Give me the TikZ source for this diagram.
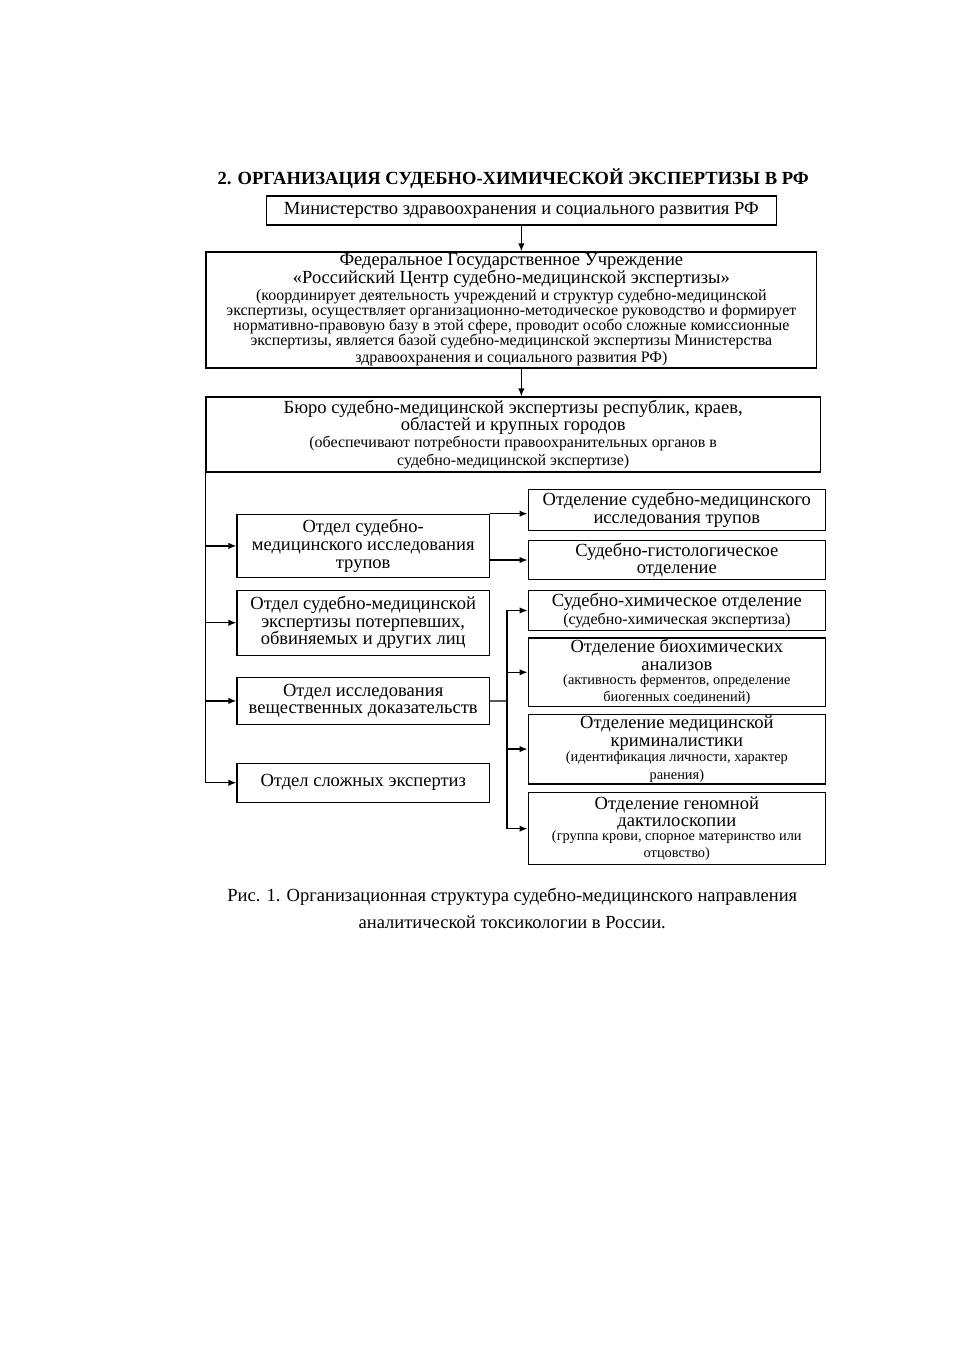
\documentclass[tikz,border=0pt]{standalone}
\usepackage{fontspec}
\setmainfont{Liberation Serif}
\usetikzlibrary{arrows.meta,positioning,calc}
\newcommand{\sm}{\fontsize{10}{9.4}\selectfont}
\newcommand{\smr}{\fontsize{9}{8.6}\selectfont}
\lineskiplimit=-4pt

\begin{document}
\begin{tikzpicture}[
  hbox/.style={draw,line width=0.8pt,align=flush center,inner sep=1pt,
               font=\fontsize{11.6}{11}\selectfont},
  wbox/.style={hbox,text width=13.2cm},
  lbox/.style={hbox,minimum width=5.55cm,text width=5.4cm},
  rbox/.style={hbox,minimum width=6.54cm,text width=6.4cm},
  arr/.style={-{Latex[length=5pt,width=4pt]},line width=0.8pt},
  ln/.style={line width=0.8pt},
]
\useasboundingbox (0,0) rectangle (21,-29.7);
% header
\node[font=\bfseries\fontsize{11.6}{13}\selectfont] (title) at (11.29,-3.92)
  {2. ОРГАНИЗАЦИЯ СУДЕБНО-ХИМИЧЕСКОЙ ЭКСПЕРТИЗЫ В РФ};
\node[hbox,minimum width=11.23cm,minimum height=0.64cm] (minzdrav) at (11.47,-4.63)
  {Министерство здравоохранения и социального развития РФ};
\node[wbox,minimum width=13.43cm,minimum height=2.55cm] (rcsme) at (11.25,-6.82)
  {Федеральное Государственное Учреждение\\
   «Российский Центр судебно-медицинской экспертизы»\par
   \sm (координирует деятельность учреждений и структур судебно-медицинской\\
   экспертизы, осуществляет организационно-методическое руководство и формирует\\
   нормативно-правовую базу в этой сфере, проводит особо сложные комиссионные\\
   экспертизы, является базой судебно-медицинской экспертизы Министерства\\
   здравоохранения и социального развития РФ)};
\node[wbox,minimum width=13.52cm,minimum height=1.65cm] (bureau) at (11.29,-9.56)
  {Бюро судебно-медицинской экспертизы республик, краев,\\
   областей и крупных городов\par
   \sm (обеспечивают потребности правоохранительных органов в\\
   судебно-медицинской экспертизе)};
% left column
\node[lbox,minimum height=1.39cm] (otdtrup) at (7.99,-12.01)
  {Отдел судебно-\\медицинского исследования\\трупов};
\node[lbox,minimum height=1.43cm] (otdlic) at (7.99,-13.70)
  {Отдел судебно-медицинской\\экспертизы потерпевших,\\обвиняемых и других лиц};
\node[lbox,minimum height=1.04cm] (otdvesh) at (7.99,-15.42)
  {Отдел исследования\\вещественных доказательств};
\node[lbox,minimum height=0.86cm] (otdslozh) at (7.99,-17.22)
  {Отдел сложных экспертиз};
% right column
\node[rbox,minimum height=0.90cm] (trup) at (14.89,-11.22)
  {Отделение судебно-медицинского\\исследования трупов};
\node[rbox,minimum height=0.86cm] (gisto) at (14.89,-12.32)
  {Судебно-гистологическое\\отделение};
\node[rbox,minimum height=0.88cm] (himia) at (14.89,-13.43)
  {Судебно-химическое отделение\par\sm (судебно-химическая экспертиза)};
\node[rbox,minimum height=1.50cm] (biohim) at (14.89,-14.79)
  {Отделение биохимических\\анализов\par
   \smr (активность ферментов, определение\\биогенных соединений)};
\node[rbox,minimum height=1.48cm] (krimin) at (14.89,-16.48)
  {Отделение медицинской\\криминалистики\par
   \smr (идентификация личности, характер\\ранения)};
\node[rbox,minimum height=1.59cm] (genom) at (14.89,-18.23)
  {Отделение геномной\\дактилоскопии\par
   \smr (группа крови, спорное материнство или\\отцовство)};
% caption
\node[font=\fontsize{11.6}{13}\selectfont] (cap1) at (11.27,-19.74)
  {Рис. 1. Организационная структура судебно-медицинского направления};
\node[font=\fontsize{11.6}{13}\selectfont] (cap2) at (11.27,-20.29)
  {аналитической токсикологии в России.};
% connectors
\draw[arr] (minzdrav.south) -- (minzdrav.south |- rcsme.north);
\draw[arr] (minzdrav.south |- rcsme.south) -- (minzdrav.south |- bureau.north);
\draw[ln] (bureau.south west) -- (bureau.south west |- otdslozh.west);
\foreach \n in {otdtrup,otdlic,otdvesh,otdslozh}
  \draw[arr] (bureau.south west |- \n.west) -- (\n.west);
\draw[arr] (otdtrup.north east) -- (otdtrup.north east -| trup.west);
\draw[arr] (gisto.west -| otdtrup.east) -- (gisto.west);
\coordinate (bus) at ($(otdvesh.east)!0.45!(otdvesh.east -| himia.west)$);
\draw[ln] (otdvesh.east) -- (bus);
\draw[ln] (bus |- himia.west) -- (bus |- genom.west);
\foreach \n in {himia,biohim,krimin,genom}
  \draw[arr] (bus |- \n.west) -- (\n.west);
\end{tikzpicture}
\end{document}
